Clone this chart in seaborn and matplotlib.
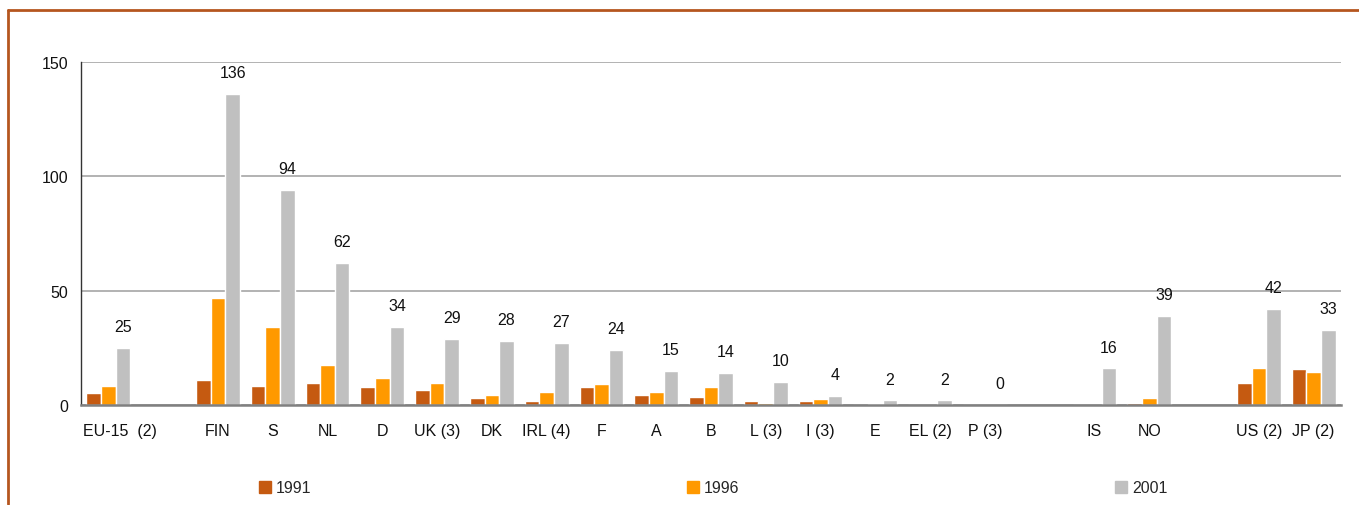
import pandas as pd
import numpy as np
import matplotlib
matplotlib.use("Agg")
import matplotlib.pyplot as plt
import matplotlib.transforms as mtransforms
from matplotlib.lines import Line2D
import seaborn as sns

# categories in display order; blank entries are empty slots between groups
slots = ["EU-15  (2)", "gap1", "FIN", "S", "NL", "D", "UK (3)", "DK", "IRL (4)", "F", "A",
         "B", "L (3)", "I (3)", "E", "EL (2)", "P (3)", "gap2", "IS", "NO", "gap3", "US (2)", "JP (2)"]
countries = ["EU-15  (2)", "FIN", "S", "NL", "D", "UK (3)", "DK", "IRL (4)", "F", "A",
             "B", "L (3)", "I (3)", "E", "EL (2)", "P (3)", "IS", "NO", "US (2)", "JP (2)"]
v1991 = [5.2, 10.9, 8.3, 9.6, 7.9, 6.6, 3.1, 1.7, 7.9, 4.4,
         3.5, 1.7, 1.7, 0, 0, 0, 0, 0.9, 9.6, 15.7]
v1996 = [8.3, 46.8, 34.1, 17.5, 11.8, 9.6, 4.4, 5.7, 9.2, 5.7,
         7.9, 0.9, 2.6, 0.4, 0, 0, 0, 3.1, 16.2, 14.4]
v2001 = [25, 136, 94, 62, 34, 29, 28, 27, 24, 15,
         14, 10, 4, 2, 2, 0, 16, 39, 42, 33]
years = ["1991", "1996", "2001"]
colors = ["#C55A11", "#FF9900", "#C0C0C0"]

df = pd.DataFrame({"country": countries, "1991": v1991, "1996": v1996, "2001": v2001})
df = df.melt(id_vars="country", var_name="year", value_name="value")

sns.set_style("white")
plt.rcParams["font.family"] = ["Liberation Sans", "DejaVu Sans"]
plt.rcParams["font.size"] = 11.5

fig = plt.figure(figsize=(13.59, 5.06), dpi=100)
ax = fig.add_axes([81 / 1359, 1 - 406 / 506, 1260 / 1359, 343 / 506])

sns.barplot(data=df, x="country", y="value", hue="year", order=slots, hue_order=years,
            palette=colors, saturation=1, width=0.8, ax=ax, legend=False)

ax.bar_label(ax.containers[2], fmt="%.0f", padding=10, fontsize=11.5, color="#111111")

ax.set_xlim(-0.5, len(slots) - 0.5)
ax.set_ylim(0, 150)
ax.set_yticks([0, 50, 100, 150])
ax.set_xlabel("")
ax.set_ylabel("")

ax.set_xticks(range(len(slots)))
ax.set_xticklabels(["" if s.startswith("gap") else s for s in slots])
ax.set_xticks(np.arange(len(slots) + 1) - 0.5, minor=True)
ax.tick_params(axis="x", which="major", length=0, pad=13, labelsize=11.5, colors="#111111")
ax.tick_params(axis="x", which="minor", direction="in", length=4, width=1, color="#333333")
ax.tick_params(axis="y", direction="in", length=4, width=1, color="#333333", pad=9,
               labelsize=11.5, labelcolor="#111111")

# nudge the wide EU-15 label to the right like the original
lab = ax.get_xticklabels()[0]
lab.set_transform(lab.get_transform() + mtransforms.ScaledTranslation(12 / 100, 0, fig.dpi_scale_trans))

ax.yaxis.grid(True, color="#A6A6A6", linewidth=1.2)
ax.set_axisbelow(True)
sns.despine(ax=ax, top=True, right=True)
ax.spines["left"].set_color("#333333")
ax.spines["left"].set_linewidth(1)
ax.spines["bottom"].set_color("#808080")
ax.spines["bottom"].set_linewidth(1.8)

handles = [Line2D([], [], marker="s", linestyle="none", markersize=9,
                  markerfacecolor=c, markeredgecolor=c) for c in colors]
fig.legend(handles, years, loc="center", bbox_to_anchor=(713 / 1359, 1 - 489 / 506),
           ncol=3, frameon=False, columnspacing=23.5, handlelength=0.8, handletextpad=0.3,
           fontsize=11.5)

# brown frame around the chart (top and left edges visible)
fig.add_artist(Line2D([8 / 1359, 1], [1 - 11 / 506, 1 - 11 / 506], transform=fig.transFigure,
                      color="#B5561F", linewidth=2))
fig.add_artist(Line2D([8 / 1359, 8 / 1359], [1 - 11 / 506, 0.002], transform=fig.transFigure,
                      color="#B5561F", linewidth=2))

fig.savefig("out.png", dpi=100)
plt.close(fig)
